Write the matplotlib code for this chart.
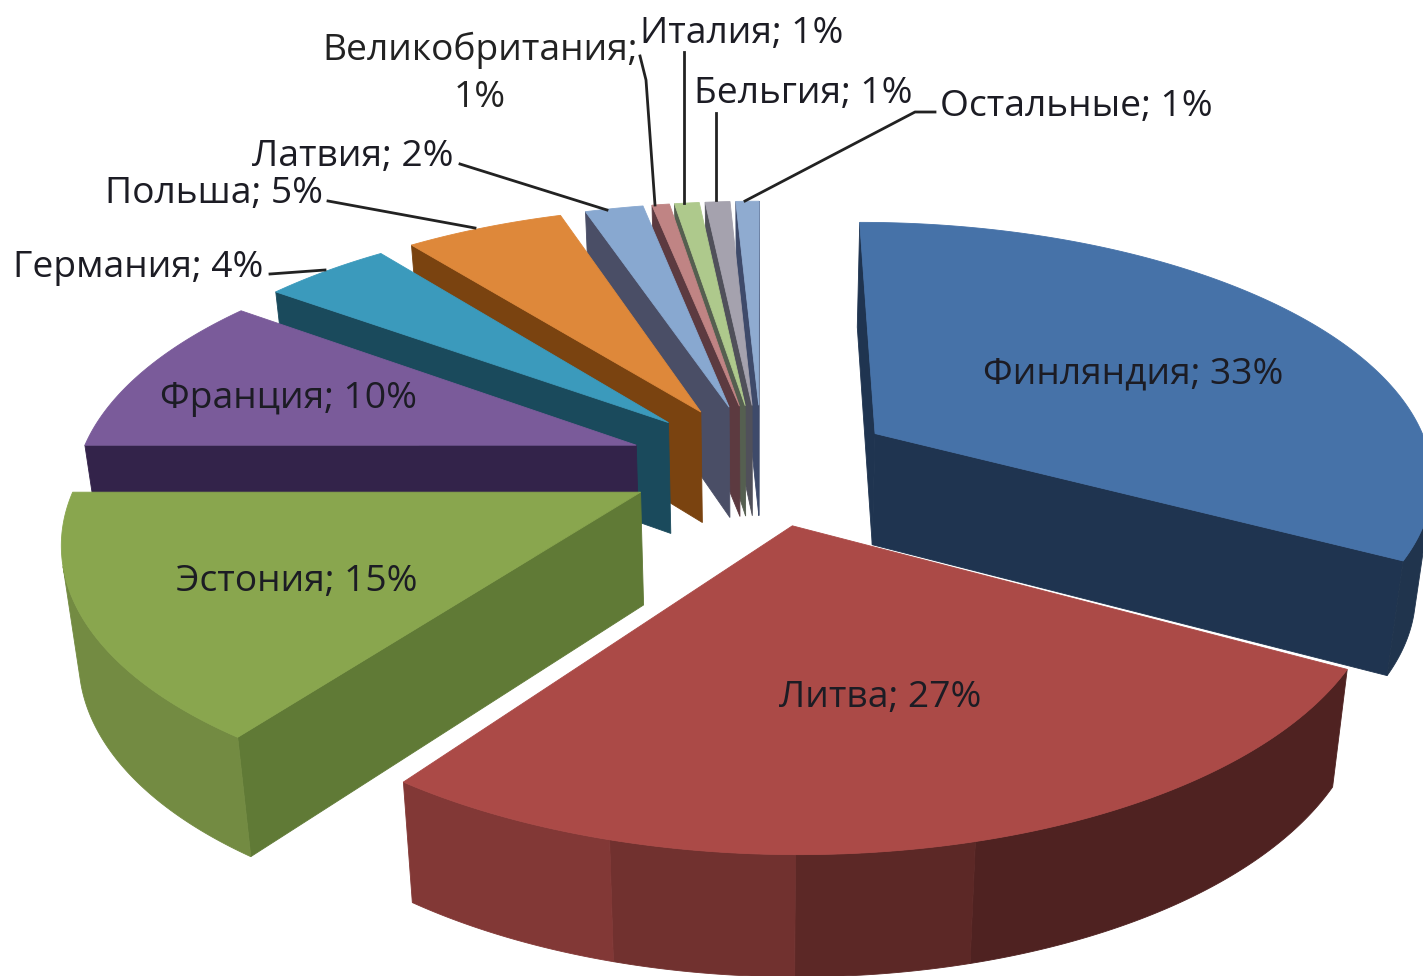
import numpy as np
import matplotlib
matplotlib.use('Agg')
import matplotlib.pyplot as plt
from matplotlib.patches import Polygon
from matplotlib.colors import to_rgb

# данные (доли оценены по размеру секторов, подписи округлены)
countries = ['Финляндия', 'Литва', 'Эстония', 'Франция', 'Германия', 'Польша',
             'Латвия', 'Великобритания', 'Италия', 'Бельгия', 'Остальные']
shares = [33, 27, 15, 10.1, 4.35, 5.45, 2.0, 0.6, 0.85, 0.85, 0.8]

top_colors = ['#4672a8', '#ab4a47', '#89a64e', '#7a5b9a', '#3b9abc', '#de883a',
              '#88a8d0', '#c08484', '#aec98c', '#a5a2ae', '#8fabd0']
side_colors = ['#1f3450', '#5c2522', '#607a36', '#33234a', '#1a4a5c', '#7a4310',
               '#4a4e66', '#5c3a40', '#555f50', '#50505a', '#3e4a6a']

# геометрия псевдо-3D
CX, CY = 762, 464
R = 558
K = 254
P = 0.16
EXPLODE = 0.24
HEIGHT = 112
TAPER = 0.025


def project(x, y, lift=0.0):
    s = 1 / (1 + P * y)
    return CX + s * x * R * (1 - TAPER * lift), CY - s * y * K + lift * HEIGHT * s ** 0.4


def rim_shade(angle):
    # полосы затенения боковой стенки по углу
    if angle < 165:
        return 0.46
    if angle < 180:
        return 0.54
    if angle < 196:
        return 0.66
    if angle < 216:
        return 0.76
    return 0.84


def facing(pts):
    x = np.array([p[0] for p in pts])
    y = np.array([p[1] for p in pts])
    return np.sum(x * np.roll(y, -1) - np.roll(x, -1) * y) < 0


def add_face(ax, pts, color, z):
    if facing(pts):
        ax.add_patch(Polygon(pts, closed=True, fc=color, ec=color, lw=0.6, zorder=z))


def add_rim(ax, rx, ry, run, color, z):
    # куски одного оттенка склеиваем в один многоугольник
    idx = list(run) + [run[-1] + 1]
    upper = [project(rx[i], ry[i]) for i in idx]
    lower = [project(rx[i], ry[i], 1) for i in reversed(idx)]
    c = tuple(color)
    ax.add_patch(Polygon(upper + lower, closed=True, fc=c, ec=c, lw=0.6, zorder=z + 0.1))


def draw_slice(ax, start, end, top, side, z):
    mid = np.radians((start + end) / 2)
    ox, oy = EXPLODE * np.sin(mid), EXPLODE * np.cos(mid)
    degs = np.linspace(start, end, max(int(end - start) * 2, 4))
    rx = ox + np.sin(np.radians(degs))
    ry = oy + np.cos(np.radians(degs))
    # срезы
    add_face(ax, [project(ox, oy), project(rx[0], ry[0]), project(rx[0], ry[0], 1), project(ox, oy, 1)], side, z)
    add_face(ax, [project(rx[-1], ry[-1]), project(ox, oy), project(ox, oy, 1), project(rx[-1], ry[-1], 1)], side, z)
    # внешняя стенка
    base = np.array(to_rgb(top))
    run = []
    run_shade = None
    for i in range(len(degs) - 1):
        quad = [project(rx[i], ry[i]), project(rx[i + 1], ry[i + 1]),
                project(rx[i + 1], ry[i + 1], 1), project(rx[i], ry[i], 1)]
        shade = rim_shade((degs[i] + degs[i + 1]) / 2) if facing(quad) else None
        if shade != run_shade:
            if run:
                add_rim(ax, rx, ry, run, base * run_shade, z)
            run = []
            run_shade = shade
        if shade is not None:
            run.append(i)
    if run:
        add_rim(ax, rx, ry, run, base * run_shade, z)
    # верх
    pts = [project(ox, oy)] + [project(a, b) for a, b in zip(rx, ry)]
    ax.add_patch(Polygon(pts, closed=True, fc=top, ec=top, lw=0.6, zorder=z + 0.2))


fig = plt.figure(figsize=(14.23, 9.76), dpi=100)
ax = fig.add_axes([0, 0, 1, 1])
ax.set_xlim(0, 1423)
ax.set_ylim(976, 0)
ax.axis('off')

edges = np.concatenate([[0], np.cumsum(shares)]) / np.sum(shares) * 360
# порядок отрисовки: от дальних к ближним
order = [10, 9, 8, 7, 6, 5, 4, 3, 0, 2, 1]
for z, i in enumerate(order):
    draw_slice(ax, edges[i], edges[i + 1], top_colors[i], side_colors[i], z + 1)

# подписи
plt.rcParams['font.family'] = ['Open Sans', 'DejaVu Sans']
label_pos = [(1133, 374), (880, 698), (297, 582), (288, 399), (138, 268), (214, 194),
             (353, 157), (480, 50), (742, 34), (803, 94), (1076, 107)]
FS = 26.8
for i, (name, val) in enumerate(zip(countries, shares)):
    x, y = label_pos[i]
    if name == 'Великобритания':
        ax.text(x, y, name + ';', ha='center', va='center', fontsize=FS, color='#222222', zorder=40)
        ax.text(x, y + 48, f'{val:.0f}%', ha='center', va='center', fontsize=FS, color='#222222', zorder=40)
    else:
        ax.text(x, y, f'{name}; {val:.0f}%', ha='center', va='center', fontsize=FS, color='#1c1c24', zorder=40)

# линии выноски
leaders = [
    ([270, 325], [274, 270]),
    ([328, 475], [201, 228]),
    ([460, 607], [164, 210]),
    ([640, 646, 655], [56, 80, 205]),
    ([684, 684], [52, 203]),
    ([716, 716], [113, 200]),
    ([935, 915, 745], [112, 112, 201]),
]
for xs, ys in leaders:
    ax.plot(xs, ys, color='#222222', lw=2, zorder=20)

fig.savefig('out.png', dpi=100, facecolor='white')
